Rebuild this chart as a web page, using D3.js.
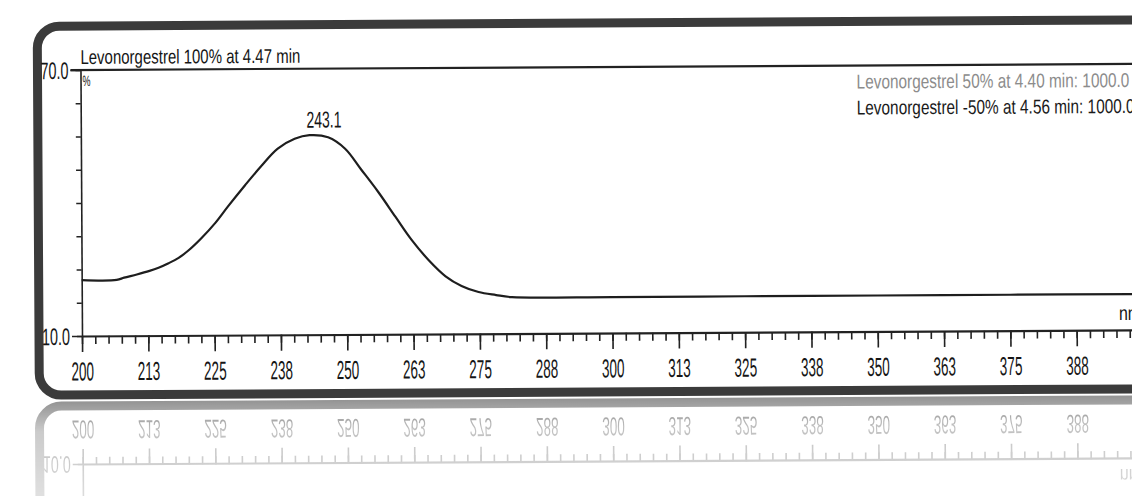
<!DOCTYPE html>
<html>
<head>
<meta charset="utf-8">
<script src="https://cdn.jsdelivr.net/npm/d3@7"></script>
<style>
  html, body { margin: 0; padding: 0; background: #fff; }
  svg { display: block; }
  text { font-family: 'Liberation Sans', Arial, sans-serif; }
</style>
</head>
<body>
<svg id="chart" width="1132" height="496"></svg>
<script>
// spectrum (nm, %)
var wavelengths = [200, 206.6, 208, 210.4, 212.8, 214.5, 216.4, 218.3, 220.2, 222.6, 225.3, 227.7, 230.9, 233.9,
    237.1, 240.3, 243.1, 246.6, 249.8, 252.8, 256, 259.2, 262.2, 265.4, 268.6, 271.6, 274.8, 278.1, 281.1,
    300, 325, 350, 375, 400];
var percents = [22.6, 22.6, 23.1, 23.8, 24.6, 25.3, 26.3, 27.5, 29.2, 31.9, 35.4, 39.1, 43.8, 48.0,
    52.0, 54.2, 55.0, 54.5, 51.9, 47.2, 42.1, 36.5, 31.3, 26.7, 23.0, 20.8, 19.4, 18.7, 18.2,
    18.1, 18.1, 18.1, 18.1, 18.1];

var xMajorTicks = [200, 212.5, 225, 237.5, 250, 262.5, 275, 287.5, 300, 312.5, 325, 337.5, 350, 362.5, 375, 387.5, 400];
var xTickLabels = ['200', '213', '225', '238', '250', '263', '275', '288', '300', '313', '325', '338', '350', '363', '375', '388', '400'];
var xMinorTicks = d3.range(200, 400.01, 2.5);
var yTicks = [10, 17.5, 25, 32.5, 40, 47.5, 55, 62.5, 70];
var yLabelTicks = [10, 70];

var title = 'Levonorgestrel  100% at 4.47 min';
var legendLines = ['Levonorgestrel 50% at 4.40 min:  1000.0', 'Levonorgestrel -50% at 4.56 min:  1000.0'];
var legendColors = ['#8c8c8c', '#1a1a1a'];
var peakLabel = '243.1';
var peakNm = 243.1;

var svg = d3.select('#chart');

var x = d3.scaleLinear().domain([200, 400]).range([82, 1143]);
var y = d3.scaleLinear().domain([10, 70]).range([336, 70]);

// fade for the reflection
var defs = svg.append('defs');
var grad = defs.append('linearGradient').attr('id', 'fadeGrad')
    .attr('gradientUnits', 'userSpaceOnUse').attr('x1', 0).attr('y1', 396).attr('x2', 0).attr('y2', 496);
grad.append('stop').attr('offset', 0).attr('stop-color', '#fff').attr('stop-opacity', 0.6);
grad.append('stop').attr('offset', 0.35).attr('stop-color', '#fff').attr('stop-opacity', 0.27);
grad.append('stop').attr('offset', 1).attr('stop-color', '#fff').attr('stop-opacity', 0.16);
defs.append('mask').attr('id', 'fade').attr('maskUnits', 'userSpaceOnUse')
    .attr('x', 0).attr('y', 0).attr('width', 1132).attr('height', 496)
    .append('rect').attr('x', 0).attr('y', 396).attr('width', 1132).attr('height', 100).attr('fill', 'url(#fadeGrad)');

function label(parent, txt, px, py, size, sx, anchor, fill) {
    return parent.append('text')
        .attr('transform', 'translate(' + px + ',' + py + ') scale(' + sx + ',1)')
        .attr('text-anchor', anchor || 'start')
        .style('font-size', size + 'px')
        .attr('fill', fill || '#151515')
        .text(txt);
}

// mirrored = true draws only the lower part, the rest falls outside the picture
function drawChart(root, mirrored) {
    // rounded frame
    root.append('rect')
        .attr('x', 39).attr('y', 26).attr('width', 1300).attr('height', 369).attr('rx', 22)
        .attr('fill', '#fff').attr('stroke', '#3b3b3b').attr('stroke-width', 9);

    // top rule of the plot (70 line)
    root.append('line')
        .attr('x1', 72).attr('x2', 1300).attr('y1', y(70)).attr('y2', y(70))
        .attr('stroke', '#222').attr('stroke-width', 2.2);

    // y axis
    var yAxis = root.append('g').attr('transform', 'translate(' + x(200) + ',0)')
        .call(d3.axisLeft(y).tickValues(yTicks).tickSize(5).tickSizeOuter(0).tickFormat(''));
    yAxis.select('.domain').attr('stroke', '#222').attr('stroke-width', 1.6);
    yAxis.selectAll('.tick line').attr('stroke', '#222').attr('stroke-width', 1.4);

    var yEnds = root.append('g').attr('transform', 'translate(' + x(200) + ',0)')
        .call(d3.axisLeft(y).tickValues(mirrored ? [10] : yLabelTicks).tickSize(10).tickPadding(2)
            .tickFormat(d3.format('.1f')));
    yEnds.select('.domain').remove();
    yEnds.selectAll('.tick line').attr('stroke', '#222').attr('stroke-width', 1.6);
    yEnds.selectAll('.tick text').attr('transform', 'scale(0.6,1)').attr('dy', '0.35em')
        .attr('x', -12 / 0.6).attr('fill', '#151515').style('font-size', '24px')
        .style('font-family', "'Liberation Sans', Arial, sans-serif");

    // x axis: minor then major ticks
    var xMinor = root.append('g').attr('transform', 'translate(0,' + y(10) + ')')
        .call(d3.axisBottom(x).tickValues(xMinorTicks).tickSize(8).tickSizeOuter(0).tickFormat(''));
    xMinor.select('.domain').attr('stroke', '#222').attr('stroke-width', 2.2);
    xMinor.selectAll('.tick line').attr('stroke', '#222').attr('stroke-width', 1.6);

    var xMajor = root.append('g').attr('transform', 'translate(0,' + y(10) + ')')
        .call(d3.axisBottom(x).tickValues(xMajorTicks).tickSize(16).tickPadding(10)
            .tickFormat(function (d, i) { return xTickLabels[i]; }));
    xMajor.select('.domain').remove();
    xMajor.selectAll('.tick line').attr('stroke', '#222').attr('stroke-width', 1.6);
    xMajor.selectAll('.tick text').attr('transform', 'scale(0.52,1)').attr('fill', '#151515')
        .style('font-size', '26px').style('font-family', "'Liberation Sans', Arial, sans-serif");

    label(root, 'nm', 1119, 326, 20, 0.8);

    // spectrum
    var pts = wavelengths.map(function (w, i) { return { nm: w, v: percents[i] }; });
    root.append('path').datum(pts)
        .attr('fill', 'none').attr('stroke', '#1e1e1e').attr('stroke-width', 2.2)
        .attr('d', d3.line().x(function (d) { return x(d.nm); }).y(function (d) { return y(d.v); })
            .curve(d3.curveCatmullRom.alpha(0.5)));

    if (mirrored) return;

    // texts of the upper part
    label(root, '%', x(200) + 2, 86, 15, 0.6);
    label(root, title, 82, 64, 20, 0.75);
    legendLines.forEach(function (t, i) {
        label(root, t, 858, 93 + i * 26, 20, 0.77, 'start', legendColors[i]);
    });
    label(root, peakLabel, x(peakNm) - 3, 129, 23, 0.61);
}

var tilt = svg.append('g').attr('transform', 'rotate(-0.33,82,336)');

// reflection, mirrored about the line just under the frame
var refl = tilt.append('g').attr('mask', 'url(#fade)')
    .append('g').attr('transform', 'translate(0,801) scale(1,-1)');
drawChart(refl, true);

drawChart(tilt.append('g'), false);
</script>
</body>
</html>
